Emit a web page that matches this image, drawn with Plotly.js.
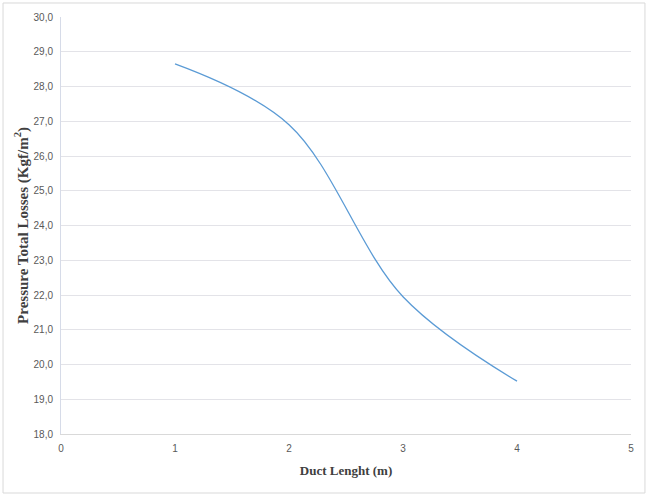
<!DOCTYPE html>
<html>
<head>
<meta charset="utf-8">
<script src="https://cdn.plot.ly/plotly-3.0.1.min.js"></script>
<style>
  body { margin: 0; background: #fff; }
  #chart { width: 650px; height: 496px; }
</style>
</head>
<body>
<div id="chart"></div>
<script>
// Duct length (m) against total pressure losses
let ductLength = [1, 2, 3, 4];
let pressureLoss = [28.65, 26.9, 21.95, 19.52];

let xTicks = [0, 1, 2, 3, 4, 5];
let yTicks = [18, 19, 20, 21, 22, 23, 24, 25, 26, 27, 28, 29, 30];
let yTickText = yTicks.map(v => v.toFixed(1).replace(".", ","));

let trace1 = {
    x: ductLength,
    y: pressureLoss,
    mode: "lines",
    type: "scatter",
    line: {color: "#5b9bd5", width: 1.3, shape: "spline", smoothing: 1}
};

let tickFont = {family: "Liberation Sans Narrow, Liberation Sans, sans-serif", size: 10, color: "#595959"};
let titleFont = {family: "Liberation Serif, serif", size: 13, color: "#404040"};

let layout = {
    width: 650,
    height: 496,
    margin: {l: 61, r: 19, t: 17, b: 62},
    paper_bgcolor: "#fff",
    plot_bgcolor: "#fff",
    showlegend: false,
    xaxis: {
        range: [0, 5],
        tickvals: xTicks,
        ticktext: xTicks.map(String),
        tickfont: tickFont,
        ticklabelstandoff: 5,
        showgrid: false,
        zeroline: false,
        showline: true,
        linecolor: "#d9d9d9",
        linewidth: 1,
        ticks: "",
        title: {text: "<b>Duct Lenght (m)</b>", font: titleFont, standoff: 12}
    },
    yaxis: {
        range: [18, 30],
        tickvals: yTicks,
        ticktext: yTickText,
        tickfont: tickFont,
        ticklabelstandoff: 5,
        showgrid: true,
        gridcolor: "#e3e3e8",
        gridwidth: 1,
        zeroline: false,
        showline: true,
        linecolor: "#d6dbe8",
        linewidth: 1,
        ticks: "",
        title: {text: "<b>Pressure Total Losses (Kgf/m<sup>2</sup>)</b>",
                font: {family: "Liberation Serif, serif", size: 15, color: "#404040"}, standoff: 1}
    },
    shapes: [{
        type: "rect",
        xref: "paper", yref: "paper",
        x0: -0.1017, x1: 1.0245,
        y0: -0.1415, y1: 1.0336,
        line: {color: "#d9d9d9", width: 1}
    }]
};

Plotly.newPlot("chart", [trace1], layout, {displayModeBar: false, staticPlot: true});
</script>
</body>
</html>
